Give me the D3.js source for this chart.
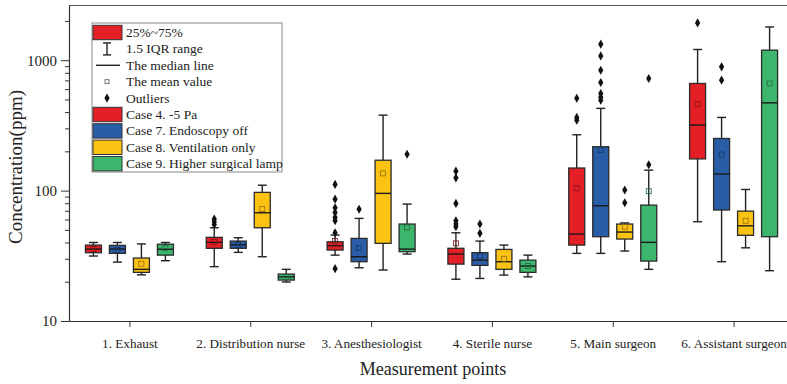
<!DOCTYPE html>
<html>
<head>
<meta charset="utf-8">
<script src="https://cdn.jsdelivr.net/npm/d3@7"></script>
<style>
  body { margin: 0; background: #fff; }
  svg { display: block; font-family: "Liberation Serif", "Times New Roman", serif; }
</style>
</head>
<body>
<div id="chart"></div>
<script>
// measurement points and cases
var categories = ["1. Exhaust", "2. Distribution nurse", "3. Anesthesiologist", "4. Sterile nurse", "5. Main surgeon", "6. Assistant surgeon"];
var caseNames = ["Case 4. -5 Pa", "Case 7. Endoscopy off", "Case 8. Ventilation only", "Case 9. Higher surgical lamp"];
var caseColors = ["#e41f26", "#2a5da8", "#fcc312", "#3cb66c"];

// box statistics, one row per case, one value per measurement point (ppm)
var whiskerLow = [
  [31.5, 26.1, 32, 20.9, 33, 57.7],
  [28.3, 33.6, 25.6, 21.2, 33, 28.5],
  [22.6, 31.1, 24.6, 22.5, 34.4, 36.4],
  [29, 19.9, 32.6, 21.8, 24.9, 24.3]
];
var q1 = [
  [33.4, 36.1, 35, 27.3, 38.2, 175],
  [33, 36.1, 28.5, 26.7, 44.3, 71],
  [23.6, 51.9, 39.4, 24.9, 42.5, 45.4],
  [32, 20.6, 34, 23.6, 28.8, 44.3]
];
var median = [
  [35.6, 40.1, 37.8, 32.6, 46.4, 318],
  [35.6, 38.4, 31.1, 29.3, 76.5, 134],
  [24.9, 67.6, 95.2, 28.5, 48.1, 53.7],
  [35.5, 21.8, 35.6, 26.4, 40.1, 471]
];
var q3 = [
  [38.2, 43.8, 40.5, 36.1, 149, 663],
  [38, 41, 43, 33.4, 217, 251],
  [30.4, 96.9, 171, 35.4, 55.4, 69.6],
  [38.8, 22.9, 55.4, 29.3, 77.4, 1194]
];
var whiskerHigh = [
  [40, 51.9, 45.6, 47.5, 268, 1208],
  [40, 43.5, 61.2, 41, 427, 364],
  [39, 110, 379, 38.2, 56.5, 102],
  [40, 24.9, 78.8, 32, 143.5, 1799]
];
var meanValue = [
  [35.6, 40.5, 41, 39.4, 104, 460],
  [35, 38.4, 36.3, 31.5, 204, 189],
  [27.5, 72.1, 135.5, 30, 52.8, 58.7],
  [36.1, 21.8, 52.2, 26.4, 99, 663]
];
var outliers = [
  [[], [55, 57.7, 60.5], [25.2, 47.5, 58.7, 62.3, 68, 73.8, 86, 111.5], [52.8, 55.4, 58.7, 79.8, 125.3, 141], [347, 364, 511], [1931]],
  [[], [], [72], [47, 55.4], [493, 520, 556, 675, 838, 1079, 1327], [703, 889]],
  [[], [], [], [], [80.6, 101], []],
  [[], [], [190], [], [157.7, 724], []]
];
var yTicks = [10, 100, 1000];

// SVG setup
var width = 787, height = 384;
var margin = {top: 5, left: 69, bottom: 321, right: 794};

var svg = d3.select("#chart")
  .append("svg")
  .attr("width", width)
  .attr("height", height);

var xScale = d3.scaleLinear().domain([0.5, 6.5]).range([margin.left, margin.right]);
var yScale = d3.scaleLog().domain([10, 2650]).range([margin.bottom, margin.top]);
var offsets = [-36, -12, 12, 36];
var boxW = 16;

// frame top line
svg.append("line")
  .attr("x1", margin.left).attr("x2", margin.right)
  .attr("y1", margin.top + 0.5).attr("y2", margin.top + 0.5)
  .attr("stroke", "#555").attr("stroke-width", 1.2);

// minor log ticks
var minor = [];
[10, 100, 1000].forEach(function (d) {
  for (var k = 2; k <= 9; k++) if (d * k <= 2650) minor.push(d * k);
});
svg.append("g")
  .attr("transform", "translate(" + margin.left + ",0)")
  .call(d3.axisLeft(yScale).tickValues(minor).tickSize(4).tickFormat(""))
  .call(function (g) { g.select(".domain").remove(); })
  .selectAll("line").attr("stroke", "#333");

var yAxis = svg.append("g")
  .attr("transform", "translate(" + margin.left + ",0)")
  .call(d3.axisLeft(yScale).tickValues(yTicks).tickSize(8).tickSizeOuter(0).tickPadding(4).tickFormat(d3.format("d")));
yAxis.select(".domain").attr("stroke", "#333").attr("stroke-width", 1.2);
yAxis.selectAll("line").attr("stroke", "#333");
yAxis.selectAll("text").attr("font-size", 15).attr("fill", "#222").attr("font-family", "Liberation Serif");

var xAxis = svg.append("g")
  .attr("transform", "translate(0," + margin.bottom + ")")
  .call(d3.axisBottom(xScale).tickValues([1, 2, 3, 4, 5, 6]).tickSize(6).tickSizeOuter(0).tickPadding(12)
    .tickFormat(function (d) { return categories[d - 1]; }));
xAxis.select(".domain").attr("stroke", "#333").attr("stroke-width", 1.2);
xAxis.selectAll("line").attr("stroke", "#333");
xAxis.selectAll("text").attr("font-size", 13.2).attr("fill", "#222").attr("font-family", "Liberation Serif");

// axis titles
svg.append("text")
  .attr("transform", "translate(22,167) rotate(-90)")
  .attr("text-anchor", "middle")
  .attr("font-size", 19).attr("fill", "#222")
  .text("Concentration(ppm)");

svg.append("text")
  .attr("x", 433).attr("y", 375)
  .attr("text-anchor", "middle")
  .attr("font-size", 18).attr("fill", "#222")
  .text("Measurement points");

// boxes
var boxes = [];
caseNames.forEach(function (name, s) {
  categories.forEach(function (c, i) {
    boxes.push({s: s, i: i, cx: xScale(i + 1) + offsets[s]});
  });
});

var g = svg.append("g");
var box = g.selectAll(".box")
  .data(boxes)
  .join("g")
  .attr("class", "box");

// whiskers
box.append("line")
  .attr("x1", (d) => d.cx).attr("x2", (d) => d.cx)
  .attr("y1", (d) => yScale(whiskerLow[d.s][d.i]))
  .attr("y2", (d) => yScale(whiskerHigh[d.s][d.i]))
  .attr("stroke", "#222").attr("stroke-width", 1.4);
box.selectAll(".cap")
  .data((d) => [{cx: d.cx, v: whiskerLow[d.s][d.i]}, {cx: d.cx, v: whiskerHigh[d.s][d.i]}])
  .join("line")
  .attr("class", "cap")
  .attr("x1", (d) => d.cx - 4.5).attr("x2", (d) => d.cx + 4.5)
  .attr("y1", (d) => yScale(d.v)).attr("y2", (d) => yScale(d.v))
  .attr("stroke", "#222").attr("stroke-width", 1.4);

box.append("rect")
  .attr("x", (d) => d.cx - boxW / 2)
  .attr("width", boxW)
  .attr("y", (d) => yScale(q3[d.s][d.i]))
  .attr("height", (d) => yScale(q1[d.s][d.i]) - yScale(q3[d.s][d.i]))
  .attr("fill", (d) => caseColors[d.s])
  .attr("stroke", "#2b2b2b").attr("stroke-width", 1.3);

box.append("line")
  .attr("x1", (d) => d.cx - boxW / 2).attr("x2", (d) => d.cx + boxW / 2)
  .attr("y1", (d) => yScale(median[d.s][d.i]))
  .attr("y2", (d) => yScale(median[d.s][d.i]))
  .attr("stroke", "#1a1a1a").attr("stroke-width", 1.4);

box.append("rect")
  .attr("x", (d) => d.cx - 2.5)
  .attr("y", (d) => yScale(meanValue[d.s][d.i]) - 2.5)
  .attr("width", 5).attr("height", 5)
  .attr("fill", "none")
  .attr("stroke", (d) => d3.color(caseColors[d.s]).darker(1.6))
  .attr("stroke-width", 0.8);

var diamond = d3.symbol().type(d3.symbolDiamond).size(24);
box.selectAll(".outlier")
  .data((d) => outliers[d.s][d.i].map(function (v) { return {cx: d.cx, v: v}; }))
  .join("path")
  .attr("class", "outlier")
  .attr("d", diamond)
  .attr("transform", (d) => "translate(" + d.cx + "," + yScale(d.v) + ")")
  .attr("fill", "#111");

// legend
var lx = 92, ly = 23, rowH = 16.4;
var legend = svg.append("g");
legend.append("rect")
  .attr("x", lx).attr("y", ly)
  .attr("width", 190).attr("height", 149)
  .attr("fill", "#fff").attr("stroke", "#888").attr("stroke-width", 1);

var legendItems = ["25%~75%", "1.5 IQR range", "The median line", "The mean value", "Outliers"].concat(caseNames);
var symX = 107, textX = 126;
legendItems.forEach(function (label, k) {
  var cy = ly + 9.5 + k * rowH;
  if (k == 0 || k >= 5) {
    legend.append("rect")
      .attr("x", 93).attr("y", cy - 7.2)
      .attr("width", 29).attr("height", 14.4)
      .attr("fill", k == 0 ? caseColors[0] : caseColors[k - 5])
      .attr("stroke", "#333").attr("stroke-width", 1);
  } else if (k == 1) {
    legend.append("line").attr("x1", symX).attr("x2", symX).attr("y1", cy - 6).attr("y2", cy + 6).attr("stroke", "#222").attr("stroke-width", 1.4);
    legend.append("line").attr("x1", symX - 4).attr("x2", symX + 4).attr("y1", cy - 6).attr("y2", cy - 6).attr("stroke", "#222").attr("stroke-width", 1.4);
    legend.append("line").attr("x1", symX - 4).attr("x2", symX + 4).attr("y1", cy + 6).attr("y2", cy + 6).attr("stroke", "#222").attr("stroke-width", 1.4);
  } else if (k == 2) {
    legend.append("line").attr("x1", 96).attr("x2", 120).attr("y1", cy).attr("y2", cy).attr("stroke", "#222").attr("stroke-width", 1.4);
  } else if (k == 3) {
    legend.append("rect").attr("x", symX - 2).attr("y", cy - 2).attr("width", 4).attr("height", 4)
      .attr("fill", "none").attr("stroke", "#555").attr("stroke-width", 0.8);
  } else if (k == 4) {
    legend.append("path").attr("d", diamond).attr("transform", "translate(" + symX + "," + cy + ")").attr("fill", "#111");
  }
  legend.append("text")
    .attr("x", textX).attr("y", cy)
    .attr("dominant-baseline", "central")
    .attr("font-size", 13.5).attr("fill", "#222")
    .text(label);
});
</script>
</body>
</html>
